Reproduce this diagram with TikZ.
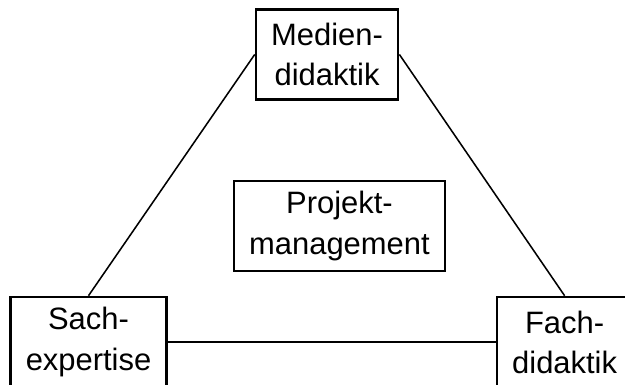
\documentclass[tikz,border=0pt]{standalone}
\usepackage{fontspec}
\setmainfont{Liberation Sans}
\usetikzlibrary{positioning}

\begin{document}
\begin{tikzpicture}[
  box/.style={rectangle, draw=black, line width=1.8pt, fill=white,
              font=\fontsize{22}{28.5}\selectfont, align=center,
              inner xsep=0.38cm, minimum height=2.25cm},
  link/.style={line width=1.1pt, color=black},
]
\useasboundingbox[fill=white] (0,0) rectangle (15.625,9.625);

%% corner nodes
\node[box] (sach) at (2.2125,1.075) {Sach-\\expertise};
\node[box, right=8.2cm of sach] (fach) {Fach-\\didaktik};
\node[box, above right=4.875cm and 2.175cm of sach] (medien) {Medien-\\didaktik};

%% centre node
\node[box, below=1.975cm of medien, xshift=0.31cm] (projekt) {Projekt-\\management};

%% triangle
\draw[link] (medien.west) -- (sach.north);
\draw[link] (medien.east) -- (fach.north);
\draw[link] (sach.east)   -- (fach.west);

\end{tikzpicture}
\end{document}
